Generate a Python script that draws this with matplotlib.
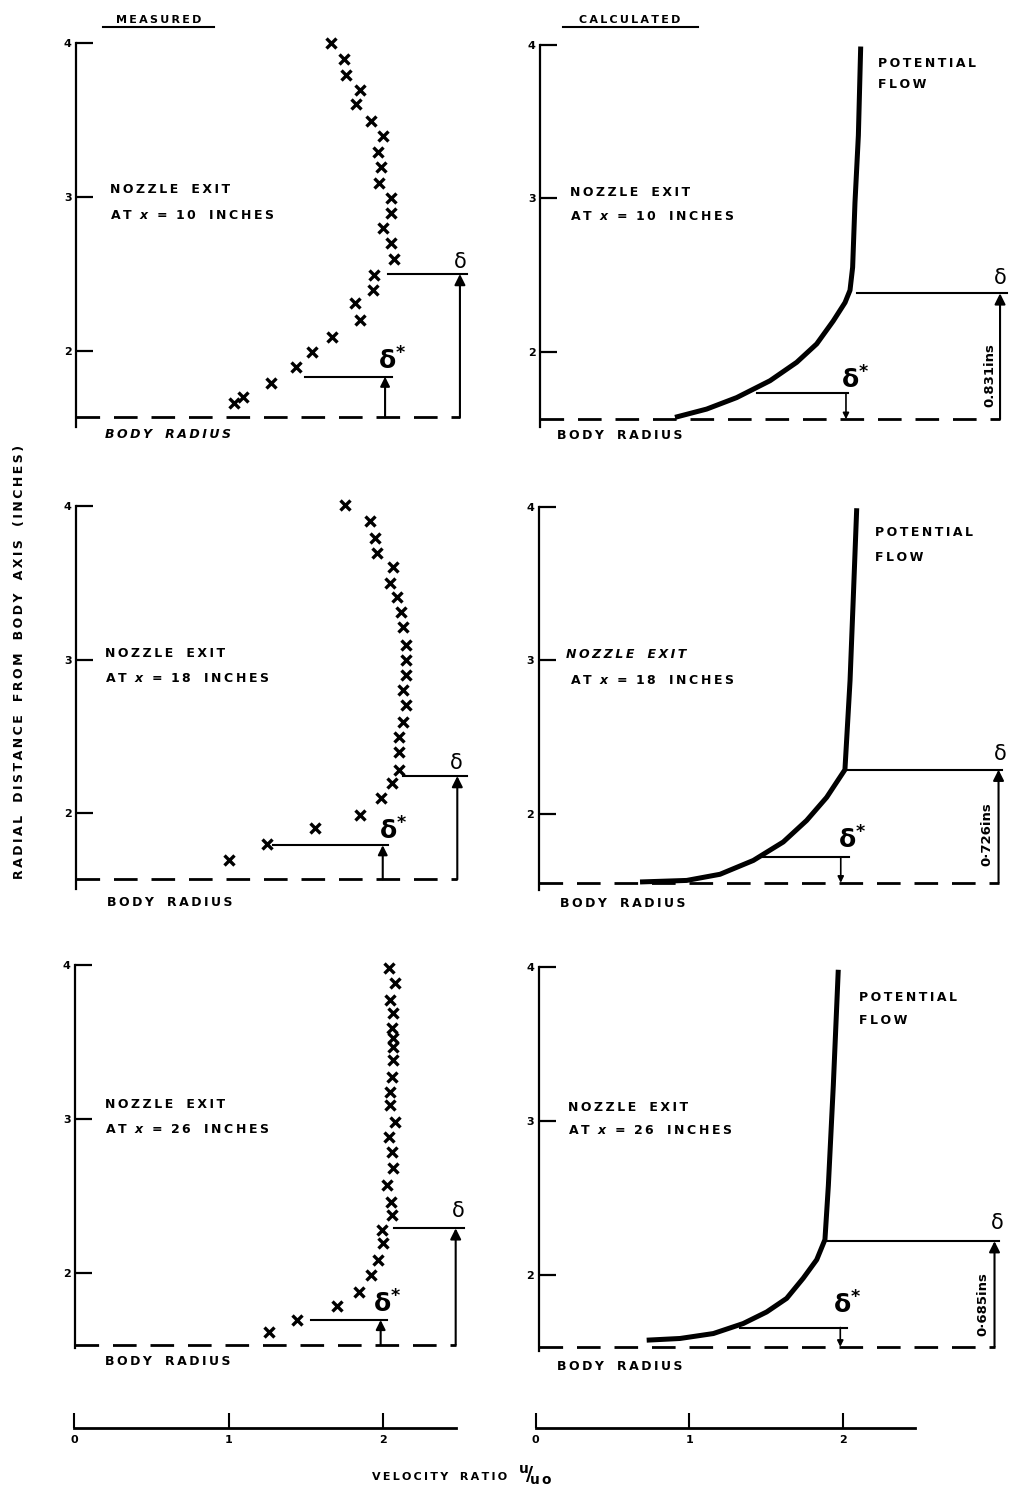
import matplotlib
matplotlib.use("Agg")
import matplotlib.pyplot as plt

# ---------------- data ----------------
stations = ["10", "18", "26"]
r_ticks = [2, 3, 4]
r_tick_labels = ["2", "3", "4"]
u_ticks = [0, 1, 2]
u_tick_labels = ["0", "1", "2"]

# measured velocity profiles (u/u0 , radial distance in inches)
u_meas_10 = [1.643, 1.729, 1.742, 1.832, 1.806, 1.901, 1.978, 1.948, 1.966, 1.957, 2.030, 2.034, 1.979,
             2.030, 2.052, 1.923, 1.918, 1.802, 1.832, 1.652, 1.523, 1.419, 1.256, 1.075, 1.019]
r_meas_10 = [4.000, 3.892, 3.790, 3.693, 3.600, 3.494, 3.395, 3.293, 3.196, 3.092, 2.991, 2.894, 2.796,
             2.699, 2.595, 2.494, 2.396, 2.310, 2.202, 2.090, 1.996, 1.899, 1.795, 1.704, 1.661]
u_meas_18 = [1.738, 1.897, 1.931, 1.944, 2.047, 2.026, 2.069, 2.095, 2.112, 2.129, 2.129, 2.129, 2.108,
             2.129, 2.112, 2.086, 2.086, 2.086, 2.037, 1.966, 1.832, 1.544, 1.234, 0.985]
r_meas_18 = [4.006, 3.902, 3.794, 3.696, 3.605, 3.501, 3.406, 3.312, 3.215, 3.096, 2.998, 2.900, 2.800,
             2.705, 2.597, 2.495, 2.401, 2.282, 2.196, 2.098, 1.990, 1.903, 1.800, 1.697]
u_meas_26 = [2.027, 2.064, 2.032, 2.053, 2.043, 2.049, 2.049, 2.053, 2.043, 2.032, 2.032, 2.064, 2.027,
             2.043, 2.049, 2.011, 2.036, 2.043, 1.978, 1.989, 1.956, 1.907, 1.834, 1.692, 1.434, 1.253]
r_meas_26 = [3.979, 3.881, 3.772, 3.686, 3.588, 3.523, 3.469, 3.382, 3.274, 3.176, 3.090, 2.981, 2.884,
             2.786, 2.678, 2.570, 2.461, 2.375, 2.278, 2.190, 2.082, 1.985, 1.877, 1.783, 1.692, 1.616]

# calculated profiles
u_calc_10 = [0.871, 1.075, 1.269, 1.484, 1.656, 1.785, 1.892, 1.968, 2.000, 2.017, 2.032, 2.054, 2.069]
r_calc_10 = [1.571, 1.625, 1.700, 1.810, 1.930, 2.050, 2.200, 2.320, 2.400, 2.550, 2.970, 3.410, 3.990]
u_calc_18 = [0.655, 0.956, 1.171, 1.386, 1.579, 1.730, 1.859, 1.977, 2.010, 2.031, 2.053]
r_calc_18 = [1.560, 1.570, 1.610, 1.700, 1.820, 1.960, 2.110, 2.290, 2.870, 3.410, 3.990]
u_calc_26 = [0.698, 0.913, 1.128, 1.321, 1.472, 1.601, 1.708, 1.795, 1.848, 1.870, 1.902, 1.934]
r_calc_26 = [1.578, 1.589, 1.621, 1.686, 1.761, 1.849, 1.980, 2.100, 2.230, 2.580, 3.230, 3.980]

# body radius, boundary-layer thickness delta and displacement thickness delta*
body_meas = [1.570, 1.571, 1.530]
body_calc = [1.559, 1.555, 1.535]
delta_meas = [2.500, 2.243, 2.288]
delta_star_meas = [1.834, 1.793, 1.692]
delta_calc = [2.380, 2.290, 2.220]
delta_star_calc = [1.730, 1.720, 1.660]
delta_thickness_labels = ["0.831ins", "0\u00b7726ins", "0\u00b7685ins"]

# ---------------- layout ----------------
W, H = 1013, 1496
plt.rcParams["font.family"] = ["DejaVu Sans"]
plt.rcParams["font.weight"] = "bold"
plt.rcParams["lines.scale_dashes"] = False
plt.rcParams["mathtext.fontset"] = "dejavusans"

fig = plt.figure(figsize=(W / 100, H / 100), dpi=100)

TS = "\u2009"


def sp(s):
    """letter-spaced text"""
    return TS.join(s).replace(TS + " " + TS, "   ")


def add_panel(x0, y4, sx, sy, xmax):
    ylo, yhi = 1.40, 4.20
    top = y4 - (yhi - 4) * sy
    height = (yhi - ylo) * sy
    ax = fig.add_axes([x0 / W, 1 - (top + height) / H, xmax * sx / W, height / H])
    ax.set_xlim(0, xmax)
    ax.set_ylim(ylo, yhi)
    ax.patch.set_alpha(0)
    for s in ["top", "right", "bottom"]:
        ax.spines[s].set_visible(False)
    ax.spines["left"].set_bounds(1.51, 4.0)
    ax.spines["left"].set_linewidth(1.6)
    ax.set_xticks([])
    ax.set_yticks(r_ticks)
    ax.set_yticklabels(r_tick_labels)
    ax.tick_params(axis="y", direction="in", length=12, width=1.6, pad=3, labelsize=8)
    return ax


# panel geometry: x-origin px, y=4 px, px per unit x, px per unit y
meas_geom = [(76, 42.7, 155, 154.2), (76, 506.0, 155, 153.7), (75, 965.0, 155, 153.8)]
calc_geom = [(540, 45.0, 155, 153.3), (538.5, 506.7, 155, 153.8), (538.5, 966.7, 155, 154.2)]

meas_u = [u_meas_10, u_meas_18, u_meas_26]
meas_r = [r_meas_10, r_meas_18, r_meas_26]
calc_u = [u_calc_10, u_calc_18, u_calc_26]
calc_r = [r_calc_10, r_calc_18, r_calc_26]

# annotation layout (x extents of the delta / delta* guide lines, label positions)
meas_delta_line = [(2.015, 2.525, 2.477), (2.112, 2.52, 2.46), (2.058, 2.51, 2.456)]
meas_dstar_line = [(1.477, 2.037, 1.994), (1.273, 2.015, 1.979), (1.52, 2.015, 1.972)]
meas_delta_lab = [(2.477, 2.58), (2.456, 2.33), (2.473, 2.40)]
meas_dstar_lab = [(1.994, 1.93), (2.0, 1.88), (1.968, 1.79)]
meas_text = [((0.219, 3.045), (0.219, 2.88), (0.187, 1.46)),
             ((0.187, 3.04), (0.187, 2.875), (0.198, 1.42)),
             ((0.194, 3.09), (0.194, 2.93), (0.194, 1.42))]

calc_delta_line = [(2.043, 3.011, 2.968), (1.989, 2.989, 2.968), (1.85, 2.968, 2.942)]
calc_dstar_line = [(1.398, 1.989, 1.974), (1.419, 2.0, 1.95), (1.30, 1.99, 1.947)]
calc_delta_lab = [(2.968, 2.48), (2.977, 2.39), (2.96, 2.34)]
calc_dstar_lab = [(1.987, 1.81), (1.977, 1.83), (1.945, 1.80)]
calc_thick_lab = [(2.90, 1.85), (2.895, 1.87), (2.87, 1.81)]
calc_text = [((0.194, 3.04), (0.194, 2.88), (0.108, 1.45), (2.18, 3.88), (2.18, 3.74)),
             ((0.18, 3.04), (0.20, 2.87), (0.14, 1.42), (2.17, 3.83), (2.17, 3.67)),
             ((0.19, 3.09), (0.19, 2.94), (0.117, 1.41), (2.07, 3.80), (2.07, 3.65))]

DASH = (0, (17, 10))
FS = 9
DSTAR = r"$\mathrm{\delta}^{\mathbf{*}}$"


def at_text(st):
    return sp("AT") + "  $\\mathit{x}$  =  " + sp(st) + "   " + sp("INCHES")


def delta_block(ax, body, dval, dline, dlab, sval, sline, slab, up_small):
    x1, x2, xv = dline
    ax.plot([x1, x2], [dval, dval], color="k", lw=1.5, clip_on=False)
    ax.annotate("", xy=(xv, dval), xytext=(xv, body),
                arrowprops=dict(arrowstyle="-|>", lw=1.5, color="k", mutation_scale=16,
                                shrinkA=0, shrinkB=0))
    ax.text(dlab[0], dlab[1], "\u03b4", fontsize=15, ha="center", va="center", fontweight="normal")
    s1, s2, sv = sline
    ax.plot([s1, s2], [sval, sval], color="k", lw=1.5, clip_on=False)
    if up_small:
        ax.annotate("", xy=(sv, sval), xytext=(sv, body),
                    arrowprops=dict(arrowstyle="-|>", lw=1.5, color="k", mutation_scale=14,
                                    shrinkA=0, shrinkB=0))
    else:
        ax.annotate("", xy=(sv, body), xytext=(sv, sval),
                    arrowprops=dict(arrowstyle="-|>", lw=1.2, color="k", mutation_scale=9,
                                    shrinkA=0, shrinkB=0))
    ax.text(slab[0] - 0.045, slab[1] - 0.05, DSTAR, fontsize=18, ha="left", va="baseline")


# ---- measured panels ----
for i in range(3):
    x0, y4, sx, sy = meas_geom[i]
    ax = add_panel(x0, y4, sx, sy, 2.85)
    ax.plot(meas_u[i], meas_r[i], ls="none", marker="x", ms=7.5, mew=2.4, color="k", clip_on=False)
    end = meas_delta_line[i][2]
    ax.plot([0, end], [body_meas[i], body_meas[i]], color="k", lw=2.0, ls=DASH)
    delta_block(ax, body_meas[i], delta_meas[i], meas_delta_line[i], meas_delta_lab[i],
                delta_star_meas[i], meas_dstar_line[i], meas_dstar_lab[i], True)
    t = meas_text[i]
    ax.text(t[0][0], t[0][1], sp("NOZZLE") + "   " + sp("EXIT"), fontsize=FS, ha="left", va="center")
    ax.text(t[1][0], t[1][1], at_text(stations[i]), fontsize=FS, ha="left", va="center")
    ax.text(t[2][0], t[2][1], sp("BODY") + "   " + sp("RADIUS"), fontsize=FS, ha="left", va="center",
            style="italic" if i == 0 else "normal")
    if i == 0:
        ax.text(0.535, 4.118, sp("MEASURED"), fontsize=8, ha="center", va="bottom")
        ax.plot([0.174, 0.89], [4.104, 4.104], color="k", lw=1.5, clip_on=False)

# ---- calculated panels ----
for i in range(3):
    x0, y4, sx, sy = calc_geom[i]
    ax = add_panel(x0, y4, sx, sy, 3.05)
    ax.plot(calc_u[i], calc_r[i], color="k", lw=3.6, solid_capstyle="butt", solid_joinstyle="round",
            clip_on=False)
    end = calc_delta_line[i][2]
    ax.plot([0, end], [body_calc[i], body_calc[i]], color="k", lw=2.0, ls=DASH)
    delta_block(ax, body_calc[i], delta_calc[i], calc_delta_line[i], calc_delta_lab[i],
                delta_star_calc[i], calc_dstar_line[i], calc_dstar_lab[i], False)
    tl = calc_thick_lab[i]
    ax.text(tl[0], tl[1], delta_thickness_labels[i], fontsize=9.5, rotation=90, ha="center", va="center")
    t = calc_text[i]
    ax.text(t[0][0], t[0][1], sp("NOZZLE") + "   " + sp("EXIT"), fontsize=FS, ha="left", va="center",
            style="italic" if i == 1 else "normal")
    ax.text(t[1][0], t[1][1], at_text(stations[i]), fontsize=FS, ha="left", va="center")
    ax.text(t[2][0], t[2][1], sp("BODY") + "   " + sp("RADIUS"), fontsize=FS, ha="left", va="center")
    ax.text(t[3][0], t[3][1], sp("POTENTIAL"), fontsize=FS, ha="left", va="center")
    ax.text(t[4][0], t[4][1], sp("FLOW"), fontsize=FS, ha="left", va="center")
    if i == 0:
        ax.text(0.58, 4.128, sp("CALCULATED"), fontsize=8, ha="center", va="bottom")
        ax.plot([0.148, 1.019], [4.115, 4.115], color="k", lw=1.5, clip_on=False)

# ---- shared velocity-ratio axes at the bottom ----
for x0, sx in [(74, 154.5), (535.5, 153.7)]:
    bx = fig.add_axes([x0 / W, 1 - 1428 / H, 2.8 * sx / W, 20 / H])
    bx.set_xlim(0, 2.8)
    bx.set_ylim(0, 1)
    bx.patch.set_alpha(0)
    for s in ["top", "right", "left"]:
        bx.spines[s].set_visible(False)
    bx.spines["bottom"].set_bounds(0, 2.47)
    bx.spines["bottom"].set_linewidth(2.0)
    bx.set_yticks([])
    bx.set_xticks(u_ticks)
    bx.set_xticklabels(u_tick_labels)
    bx.tick_params(axis="x", direction="in", length=11, width=1.5, pad=5, labelsize=8)

fig.text(440 / W, 1 - 1477 / H, sp("VELOCITY") + "   " + sp("RATIO"), fontsize=8, ha="center", va="center")
fig.text(518 / W, 1 - 1475 / H, r"$\mathbf{{}^{u}\!/\!{}_{u\,o}}$", fontsize=14, ha="left", va="center")

fig.text(20 / W, 1 - 662 / H,
         sp("RADIAL") + "   " + sp("DISTANCE") + "   " + sp("FROM") + "   " + sp("BODY") + "   "
         + sp("AXIS") + "   " + sp("(INCHES)"),
         fontsize=9, rotation=90, ha="center", va="center")

fig.savefig("out.png", dpi=100)
